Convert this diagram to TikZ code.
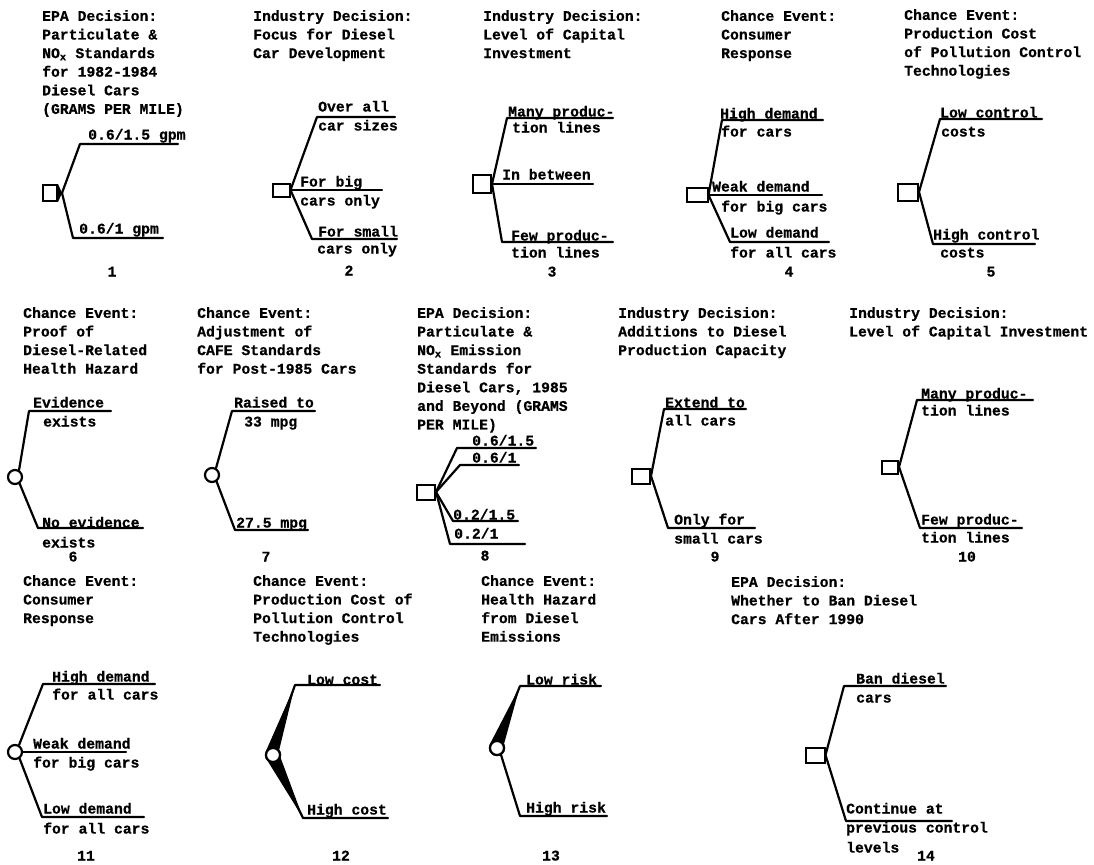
\documentclass[tikz,border=0pt]{standalone}
\usepackage{fontspec}
\setmonofont[BoldFeatures={FakeBold=0.6}]{Liberation Mono}
\tikzset{
  txt/.style={font=\ttfamily\bfseries\fontsize{14.75pt}{18.6pt}\selectfont, inner sep=0pt, text=black},
  lbl/.style={txt, anchor=west, text height=9pt, text depth=0pt},
  num/.style={txt, anchor=center, text height=9pt, text depth=0pt},
  ttl/.style={txt, anchor=north west, align=left},
  dec/.style={draw, line width=2pt, fill=white, inner sep=0pt},
  chn/.style={draw, circle, line width=2.2pt, fill=white, inner sep=0pt, minimum size=14pt},
  br/.style={line width=2.2pt, line join=round, line cap=round},
}
\begin{document}
\begin{tikzpicture}[x=1pt,y=-1pt]
\useasboundingbox[fill=white] (0,0) rectangle (1094,864);

% ---------- Panel 1
\node[ttl] (t1) at (42,10) {EPA Decision:\\Particulate \&\\NO\textsubscript{x} Standards\\for 1982-1984\\Diesel Cars\\(GRAMS PER MILE)};
\node[dec, minimum width=14pt, minimum height=16pt] (p1) at (50,193) {};
\coordinate (j1) at (62,193);
\coordinate (c1a) at (80,144); \coordinate (e1a) at (178,144);
\coordinate (c1b) at (73,238); \coordinate (e1b) at (163,238);
\fill (p1.north east) -- (j1) -- (p1.south east) -- cycle;
\draw[br] (j1) -- (c1a) -- (e1a);
\draw[br] (j1) -- (c1b) -- (e1b);
\node[lbl] (l1a) at (88,135) {0.6/1.5 gpm};
\node[lbl] (l1b) at (79,229) {0.6/1 gpm};
\node[num] (n1) at (112,272) {1};

% ---------- Panel 2
\node[ttl] (t2) at (253,10) {Industry Decision:\\Focus for Diesel\\Car Development};
\node[dec, minimum width=17pt, minimum height=13pt] (p2) at (281,190) {};
\coordinate (c2a) at (317,117); \coordinate (e2a) at (395,117);
\coordinate (e2b) at (382,190);
\coordinate (c2c) at (312,239); \coordinate (e2c) at (397,239);
\draw[br] (p2.east) -- (c2a) -- (e2a);
\draw[br] (p2.east) -- (e2b);
\draw[br] (p2.east) -- (c2c) -- (e2c);
\node[lbl] (l2a) at (318,107) {Over all};
\node[lbl] (l2b) at (318,126) {car sizes};
\node[lbl] (l2c) at (300,182) {For big};
\node[lbl] (l2d) at (300,201) {cars only};
\node[lbl] (l2e) at (318,232) {For small};
\node[lbl] (l2f) at (317,249) {cars only};
\node[num] (n2) at (349,271) {2};

% ---------- Panel 3
\node[ttl] (t3) at (483,10) {Industry Decision:\\Level of Capital\\Investment};
\node[dec, minimum width=18pt, minimum height=18pt] (p3) at (482,184) {};
\coordinate (c3a) at (507,118); \coordinate (e3a) at (613,118);
\coordinate (e3b) at (593,184);
\coordinate (c3c) at (502,242); \coordinate (e3c) at (613,242);
\draw[br] (p3.east) -- (c3a) -- (e3a);
\draw[br] (p3.east) -- (e3b);
\draw[br] (p3.east) -- (c3c) -- (e3c);
\node[lbl] (l3a) at (508,112) {Many produc-};
\node[lbl] (l3b) at (512,128) {tion lines};
\node[lbl] (l3c) at (502,175) {In between};
\node[lbl] (l3d) at (511,236) {Few produc-};
\node[lbl] (l3e) at (511,253) {tion lines};
\node[num] (n3) at (552,272) {3};

% ---------- Panel 4
\node[ttl] (t4) at (721,10) {Chance Event:\\Consumer\\Response};
\node[dec, minimum width=21pt, minimum height=14pt] (p4) at (697,195) {};
\coordinate (c4a) at (722,120); \coordinate (e4a) at (823,120);
\coordinate (e4b) at (822,195);
\coordinate (c4c) at (730,242); \coordinate (e4c) at (829,242);
\draw[br] (p4.east) -- (c4a) -- (e4a);
\draw[br] (p4.east) -- (e4b);
\draw[br] (p4.east) -- (c4c) -- (e4c);
\node[lbl] (l4a) at (720,114) {High demand};
\node[lbl] (l4b) at (721,132) {for cars};
\node[lbl] (l4c) at (712,187) {Weak demand};
\node[lbl] (l4d) at (721,207) {for big cars};
\node[lbl] (l4e) at (730,233) {Low demand};
\node[lbl] (l4f) at (730,253) {for all cars};
\node[num] (n4) at (789,272) {4};

% ---------- Panel 5
\node[ttl] (t5) at (904,9) {Chance Event:\\Production Cost\\of Pollution Control\\Technologies};
\node[dec, minimum width=20pt, minimum height=17pt] (p5) at (908,192) {};
\coordinate (c5a) at (940,119); \coordinate (e5a) at (1042,119);
\coordinate (c5b) at (933,244); \coordinate (e5b) at (1035,244);
\draw[br] (p5.east) -- (c5a) -- (e5a);
\draw[br] (p5.east) -- (c5b) -- (e5b);
\node[lbl] (l5a) at (940,113) {Low control};
\node[lbl] (l5b) at (941,132) {costs};
\node[lbl] (l5c) at (933,235) {High control};
\node[lbl] (l5d) at (940,253) {costs};
\node[num] (n5) at (991,272) {5};

% ---------- Panel 6
\node[ttl] (t6) at (23,307) {Chance Event:\\Proof of\\Diesel-Related\\Health Hazard};
\node[chn] (p6) at (15,477) {};
\coordinate (c6a) at (29,411); \coordinate (e6a) at (111,411);
\coordinate (c6b) at (38,528); \coordinate (e6b) at (143,528);
\draw[br] (p6.60) -- (c6a) -- (e6a);
\draw[br] (p6.-55) -- (c6b) -- (e6b);
\node[lbl] (l6a) at (33,403) {Evidence};
\node[lbl] (l6b) at (43,422) {exists};
\node[lbl] (l6c) at (42,523) {No evidence};
\node[lbl] (l6d) at (42,543) {exists};
\node[num] (n6) at (73,557) {6};

% ---------- Panel 7
\node[ttl] (t7) at (197,307) {Chance Event:\\Adjustment of\\CAFE Standards\\for Post-1985 Cars};
\node[chn] (p7) at (212,475) {};
\coordinate (c7a) at (232,411); \coordinate (e7a) at (315,411);
\coordinate (c7b) at (235,530); \coordinate (e7b) at (308,530);
\draw[br] (p7.60) -- (c7a) -- (e7a);
\draw[br] (p7.-55) -- (c7b) -- (e7b);
\node[lbl] (l7a) at (234,403) {Raised to};
\node[lbl] (l7b) at (244,422) {33 mpg};
\node[lbl] (l7c) at (236,523) {27.5 mpg};
\node[num] (n7) at (266,557) {7};

% ---------- Panel 8
\node[ttl] (t8) at (417,307) {EPA Decision:\\Particulate \&\\NO\textsubscript{x} Emission\\Standards for\\Diesel Cars, 1985\\and Beyond (GRAMS\\PER MILE)};
\node[dec, minimum width=18pt, minimum height=15pt] (p8) at (426,492) {};
\coordinate (c8a) at (457,448); \coordinate (e8a) at (536,448);
\coordinate (c8b) at (460,465); \coordinate (e8b) at (519,465);
\coordinate (c8c) at (453,521); \coordinate (e8c) at (518,521);
\coordinate (c8d) at (450,544); \coordinate (e8d) at (525,544);
\draw[br] (p8.east) -- (c8a) -- (e8a);
\draw[br] (p8.east) -- (c8b) -- (e8b);
\draw[br] (p8.east) -- (c8c) -- (e8c);
\draw[br] (p8.east) -- (c8d) -- (e8d);
\node[lbl] (l8a) at (472,441) {0.6/1.5};
\node[lbl] (l8b) at (472,458) {0.6/1};
\node[lbl] (l8c) at (453,515) {0.2/1.5};
\node[lbl] (l8d) at (454,534) {0.2/1};
\node[num] (n8) at (485,556) {8};

% ---------- Panel 9
\node[ttl] (t9) at (618,307) {Industry Decision:\\Additions to Diesel\\Production Capacity};
\node[dec, minimum width=18pt, minimum height=15pt] (p9) at (641,476) {};
\coordinate (c9a) at (664,409); \coordinate (e9a) at (746,409);
\coordinate (c9b) at (668,528); \coordinate (e9b) at (755,528);
\draw[br] (p9.east) -- (c9a) -- (e9a);
\draw[br] (p9.east) -- (c9b) -- (e9b);
\node[lbl] (l9a) at (665,403) {Extend to};
\node[lbl] (l9b) at (665,421) {all cars};
\node[lbl] (l9c) at (674,520) {Only for};
\node[lbl] (l9d) at (674,539) {small cars};
\node[num] (n9) at (715,557) {9};

% ---------- Panel 10
\node[ttl] (t10) at (849,307) {Industry Decision:\\Level of Capital Investment};
\node[dec, minimum width=16pt, minimum height=13pt] (p10) at (890,467) {};
\coordinate (c10a) at (917,400); \coordinate (e10a) at (1033,400);
\coordinate (c10b) at (920,528); \coordinate (e10b) at (1022,528);
\draw[br] (p10.east) -- (c10a) -- (e10a);
\draw[br] (p10.east) -- (c10b) -- (e10b);
\node[lbl] (l10a) at (921,394) {Many produc-};
\node[lbl] (l10b) at (921,411) {tion lines};
\node[lbl] (l10c) at (921,520) {Few produc-};
\node[lbl] (l10d) at (921,538) {tion lines};
\node[num] (n10) at (967,557) {10};

% ---------- Panel 11
\node[ttl] (t11) at (23,575) {Chance Event:\\Consumer\\Response};
\node[chn] (p11) at (15,752) {};
\coordinate (c11a) at (43,684); \coordinate (e11a) at (155,684);
\coordinate (e11b) at (126,752);
\coordinate (c11c) at (42,817); \coordinate (e11c) at (144,817);
\draw[br] (p11.60) -- (c11a) -- (e11a);
\draw[br] (p11.east) -- (e11b);
\draw[br] (p11.-55) -- (c11c) -- (e11c);
\node[lbl] (l11a) at (52,677) {High demand};
\node[lbl] (l11b) at (52,695) {for all cars};
\node[lbl] (l11c) at (33,744) {Weak demand};
\node[lbl] (l11d) at (33,763) {for big cars};
\node[lbl] (l11e) at (43,809) {Low demand};
\node[lbl] (l11f) at (43,829) {for all cars};
\node[num] (n11) at (86,856) {11};

% ---------- Panel 12
\node[ttl] (t12) at (253,575) {Chance Event:\\Production Cost of\\Pollution Control\\Technologies};
\node[chn] (p12) at (273,755) {};
\coordinate (c12a) at (295,685); \coordinate (e12a) at (380,685);
\coordinate (c12b) at (303,818); \coordinate (e12b) at (388,818);
\fill (p12.150) -- (c12a) -- (p12.40) -- cycle;
\fill (p12.-130) -- (c12b) -- (p12.-20) -- cycle;
\draw[br] (p12.90) -- (c12a) -- (e12a);
\draw[br] (p12.-70) -- (c12b) -- (e12b);
\node[chn] at (p12) {};
\node[lbl] (l12a) at (307,680) {Low cost};
\node[lbl] (l12b) at (307,810) {High cost};
\node[num] (n12) at (341,856) {12};

% ---------- Panel 13
\node[ttl] (t13) at (481,575) {Chance Event:\\Health Hazard\\from Diesel\\Emissions};
\node[chn] (p13) at (497,748) {};
\coordinate (c13a) at (520,686); \coordinate (e13a) at (601,686);
\coordinate (c13b) at (520,816); \coordinate (e13b) at (607,816);
\fill (p13.150) -- (c13a) -- (p13.30) -- cycle;
\draw[br] (p13.80) -- (c13a) -- (e13a);
\draw[br] (p13.-60) -- (c13b) -- (e13b);
\node[chn] at (p13) {};
\node[lbl] (l13a) at (526,680) {Low risk};
\node[lbl] (l13b) at (526,808) {High risk};
\node[num] (n13) at (551,856) {13};

% ---------- Panel 14
\node[ttl] (t14) at (731,576) {EPA Decision:\\Whether to Ban Diesel\\Cars After 1990};
\node[dec, minimum width=19pt, minimum height=15pt] (p14) at (815,755) {};
\coordinate (c14a) at (844,686); \coordinate (e14a) at (946,686);
\coordinate (c14b) at (846,821); \coordinate (e14b) at (952,821);
\draw[br] (p14.east) -- (c14a) -- (e14a);
\draw[br] (p14.east) -- (c14b) -- (e14b);
\node[lbl] (l14a) at (856,679) {Ban diesel};
\node[lbl] (l14b) at (856,698) {cars};
\node[lbl] (l14c) at (846,809) {Continue at};
\node[lbl] (l14d) at (846,828) {previous control};
\node[lbl] (l14e) at (846,848) {levels};
\node[num] (n14) at (926,856) {14};
\end{tikzpicture}
\end{document}
